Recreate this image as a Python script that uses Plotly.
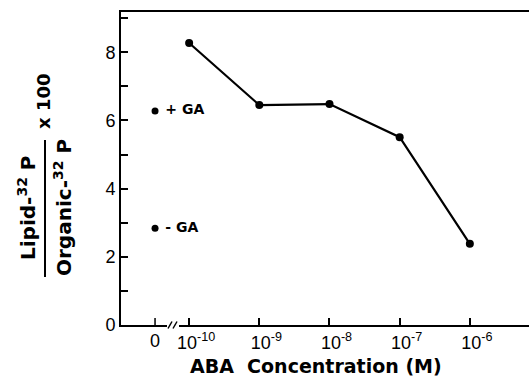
import plotly.graph_objects as go

# Data
aba_log_conc = [-10, -9, -8, -7, -6]
lipid_ratio = [8.27, 6.45, 6.48, 5.51, 2.38]
control_labels = [" + GA", " - GA"]
control_values = [6.28, 2.84]
zero_pos = -10.486
x_tickvals = [-10, -9, -8, -7, -6]
x_ticktext = ["10<sup>-10</sup>", "10<sup>-9</sup>", "10<sup>-8</sup>", "10<sup>-7</sup>", "10<sup>-6</sup>"]
y_tickvals = [0, 2, 4, 6, 8]
y_ticktext = ["0", "2", "4", "6", "8"]

W, H = 529, 378
L, R, T, B = 121, 0, 12, 53
PW, PH = W - L - R, H - T - B

def px(x):
    return (x - L) / PW

def py(y):
    return (H - B - y) / PH

fig = go.Figure()
fig.add_trace(go.Scatter(x=aba_log_conc, y=lipid_ratio, mode="lines+markers",
                         line=dict(color="black", width=2.2),
                         marker=dict(color="black", size=8), showlegend=False))
fig.add_trace(go.Scatter(x=[zero_pos] * len(control_values), y=control_values,
                         mode="markers+text", text=control_labels,
                         textposition="middle right",
                         textfont=dict(family="DejaVu Sans", size=14, color="black", weight="bold"),
                         marker=dict(color="black", size=7), showlegend=False))

axis_font = dict(family="Liberation Sans", size=18, color="black")
fig.update_layout(
    width=W, height=H,
    margin=dict(l=L, r=R, t=T, b=B, pad=0),
    paper_bgcolor="white", plot_bgcolor="white",
    xaxis=dict(range=[-10.971, -5.157], tickvals=x_tickvals, ticktext=x_ticktext,
               ticks="inside", ticklen=7, tickwidth=1.5, tickcolor="black", ticklabelshift=7,
               showline=True, linecolor="black", linewidth=1.8, mirror=True,
               showgrid=False, zeroline=False, tickfont=dict(family="Liberation Sans", size=18, color="black")),
    yaxis=dict(range=[0, 9.18], tickvals=y_tickvals, ticktext=y_ticktext,
               ticks="inside", ticklen=7, tickwidth=1.5, tickcolor="black",
               minor=dict(dtick=1, tick0=0, ticks="inside", ticklen=7, tickwidth=1.5, tickcolor="black", showgrid=False),
               showline=True, linecolor="black", linewidth=1.8,
               showgrid=False, zeroline=False, tickfont=axis_font),
)

# "0" tick and label on x axis
fig.add_shape(type="line", xref="x", yref="paper", x0=zero_pos, x1=zero_pos, y0=0, y1=7 / PH,
              line=dict(color="black", width=1.5))
fig.add_annotation(text="0", xref="x", yref="paper", x=zero_pos, y=py(341),
                   showarrow=False, xanchor="center", yanchor="middle", font=axis_font)

# axis break
fig.add_shape(type="rect", xref="paper", yref="paper", x0=px(167), x1=px(179), y0=py(328), y1=py(322),
              line=dict(width=0), fillcolor="white", layer="above")
for x0 in (168, 173):
    fig.add_shape(type="line", xref="paper", yref="paper", x0=px(x0), x1=px(x0 + 4), y0=py(328.5), y1=py(321.5),
                  line=dict(color="black", width=1.5), layer="above")

bold = dict(family="DejaVu Sans", size=18, color="black", weight="bold")
# x title
fig.add_annotation(text="ABA  Concentration (M)", xref="paper", yref="paper", x=px(316), y=py(366),
                   showarrow=False, xanchor="center", yanchor="middle", font=dict(bold, size=19))
# y title fraction
fig.add_annotation(text="Lipid-<sup>32</sup> P", xref="paper", yref="paper", x=px(27), y=py(208),
                   showarrow=False, textangle=-90, xanchor="center", yanchor="middle", font=dict(bold, size=20))
fig.add_annotation(text="Organic-<sup>32</sup> P", xref="paper", yref="paper", x=px(63), y=py(208),
                   showarrow=False, textangle=-90, xanchor="center", yanchor="middle", font=dict(bold, size=20))
fig.add_shape(type="line", xref="paper", yref="paper", x0=px(45), x1=px(45), y0=py(277), y1=py(140),
              line=dict(color="black", width=2))
fig.add_annotation(text="x 100", xref="paper", yref="paper", x=px(44), y=py(102),
                   showarrow=False, textangle=-90, xanchor="center", yanchor="middle", font=bold)

fig.write_html("out.html")
